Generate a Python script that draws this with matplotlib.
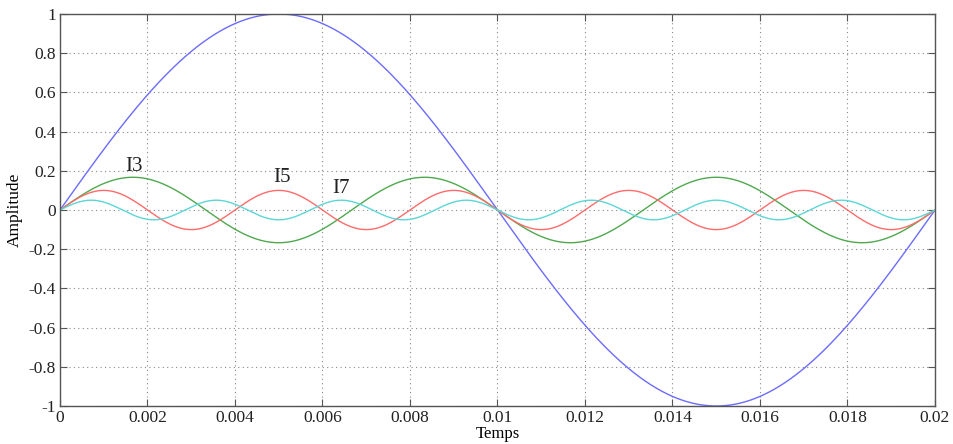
import numpy as np
import matplotlib
matplotlib.use("Agg")
import matplotlib.pyplot as plt

# Data: fundamental 50 Hz and its harmonics
period = 0.02
harmonic_orders = [1, 3, 5, 7]
amplitudes = [1.0, 0.167, 0.1, 0.05]
colors = ["#6b6bff", "#4fa84f", "#ff6b6b", "#5cd6d6"]
labels = ["I3", "I5", "I7"]
label_x = [0.00170, 0.00507, 0.00643]
label_y = [0.22, 0.165, 0.11]
xticks = [0, 0.002, 0.004, 0.006, 0.008, 0.01, 0.012, 0.014, 0.016, 0.018, 0.02]
xticklabels = ["0", "0.002", "0.004", "0.006", "0.008", "0.01", "0.012", "0.014", "0.016", "0.018", "0.02"]
yticks = [-1, -0.8, -0.6, -0.4, -0.2, 0, 0.2, 0.4, 0.6, 0.8, 1]
yticklabels = ["-1", "-0.8", "-0.6", "-0.4", "-0.2", "0", "0.2", "0.4", "0.6", "0.8", "1"]

plt.rcParams['font.family'] = ['Liberation Serif', 'DejaVu Serif']

fig = plt.figure(figsize=(9.54, 4.44), dpi=100)
ax = fig.add_axes([60/954, 1-406/444, 875/954, 392/444])

t = np.linspace(0, period, 2000)
for n, a, c in zip(harmonic_orders, amplitudes, colors):
    ax.plot(t, a*np.sin(2*np.pi*n*t/period), color=c, lw=1.0)

for lab, x, y in zip(labels, label_x, label_y):
    ax.text(x, y, lab, fontsize=15, ha='center', va='center', color='#222222')

ax.set_xlim(0, 0.02)
ax.set_ylim(-1, 1)
ax.set_xticks(xticks)
ax.set_xticklabels(xticklabels)
ax.set_yticks(yticks)
ax.set_yticklabels(yticklabels)
ax.tick_params(direction='in', length=5, top=True, right=True, labelsize=12.5,
               color='#555555', labelcolor='#222222', pad=3)
ax.grid(True, linestyle=(0, (1, 3)), color='#888888', lw=0.8)
for s in ax.spines.values():
    s.set_color('#555555')
    s.set_linewidth(1.0)
ax.set_xlabel("Temps", fontsize=12, labelpad=0)
ax.set_ylabel("Amplitude", fontsize=12.5, labelpad=4)

fig.savefig("out.png", dpi=100)
